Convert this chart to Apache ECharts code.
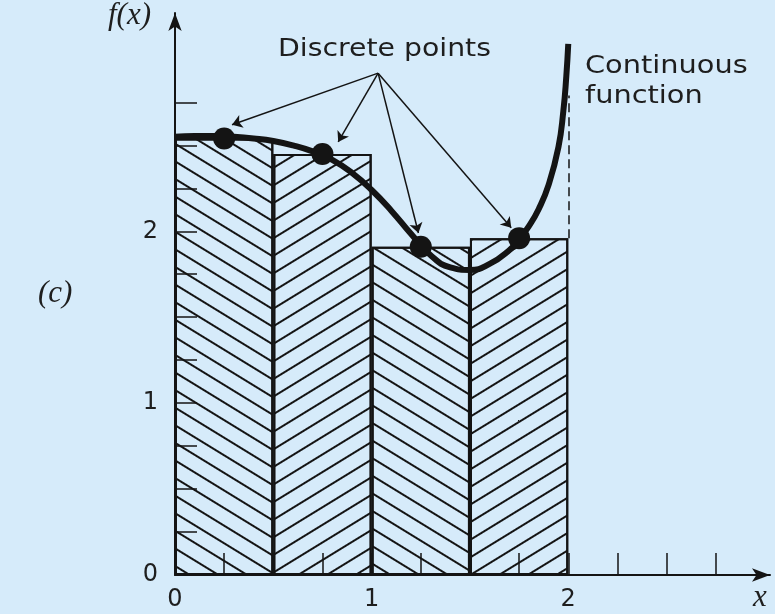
<!DOCTYPE html>
<html>
<head>
<meta charset="utf-8">
<script src="https://cdn.jsdelivr.net/npm/echarts@6/dist/echarts.min.js"></script>
<style>
  html, body { margin: 0; padding: 0; background: #d6ebfa; }
  #chart { width: 775px; height: 614px; }
</style>
</head>
<body>
<div id="chart"></div>
<script>
// Rectangles of the midpoint rule: centre of each interval and its height
const barMidpoints = [0.25, 0.75, 1.25, 1.75];
const barHeights = [2.54, 2.45, 1.91, 1.96];
const barSpan = 0.5;

// Discrete samples of the function
const pointX = [0.25, 0.75, 1.25, 1.75];
const pointY = [2.54, 2.45, 1.91, 1.96];

// Samples of the continuous function
const curveX = [0, 0.1, 0.2, 0.3, 0.4, 0.5, 0.6, 0.7, 0.8, 0.9, 1.0, 1.1, 1.2, 1.3, 1.4, 1.5, 1.6, 1.7, 1.75, 1.8, 1.85, 1.9, 1.95, 1.975, 1.99, 2.0];
const curveY = [2.55, 2.555, 2.555, 2.55, 2.54, 2.525, 2.50, 2.465, 2.415, 2.34, 2.24, 2.12, 1.985, 1.86, 1.79, 1.775, 1.81, 1.89, 1.955, 2.03, 2.13, 2.27, 2.49, 2.70, 2.90, 3.09];

// Axis ticks and labels
const tickValues = [0.25, 0.5, 0.75, 1, 1.25, 1.5, 1.75, 2, 2.25, 2.5, 2.75];
const labelValues = [0, 1, 2];

// Callout arrows from the "Discrete points" label towards each sample
const arrowFrom = [1.033, 2.92];
const arrowToX = [0.29, 0.83, 1.238, 1.71];
const arrowToY = [2.62, 2.52, 1.99, 2.02];

// Dashed guide at the right end of the interval
const guideX = 2;
const guideY = [1.96, 2.79];

const ink = '#141414';
const hatchAngle = 0.55;

function hatch(sign) {
  return {
    symbol: 'rect',
    symbolSize: 1,
    color: ink,
    dashArrayX: [1, 0],
    dashArrayY: [2, 12.5],
    rotation: sign * hatchAngle
  };
}

const chart = echarts.init(document.getElementById('chart'), null, { renderer: 'canvas' });

const option = {
  backgroundColor: '#d6ebfa',
  animation: false,
  grid: { left: 175, top: 13, right: 5, bottom: 39, containLabel: false },
  xAxis: {
    type: 'value', min: 0, max: 3.026, z: 5,
    splitLine: { show: false },
    axisLine: { lineStyle: { color: ink, width: 2 }, symbol: ['none', 'arrow'], symbolSize: [10, 18] },
    axisTick: { inside: true, length: 22, lineStyle: { color: ink, width: 1.5 }, customValues: tickValues },
    axisLabel: { customValues: labelValues, fontFamily: 'DejaVu Sans', fontSize: 24, color: '#1e1e1e', margin: 13 }
  },
  yAxis: {
    type: 'value', min: 0, max: 3.27, z: 5,
    splitLine: { show: false },
    axisLine: { show: true, lineStyle: { color: ink, width: 2 }, symbol: ['none', 'arrow'], symbolSize: [10, 18] },
    axisTick: { show: true, inside: true, length: 22, lineStyle: { color: ink, width: 1.5 }, customValues: tickValues },
    axisLabel: { customValues: labelValues, fontFamily: 'DejaVu Sans', fontSize: 24, color: '#1e1e1e', margin: 17 }
  },
  series: [
    {
      id: 'bars',
      type: 'bar',
      barWidth: 98,
      z: 1,
      data: barMidpoints.map((x, i) => ({
        value: [x, barHeights[i]],
        itemStyle: { decal: hatch(i % 2 === 0 ? 1 : -1) }
      })),
      itemStyle: { color: 'rgba(0,0,0,0)', borderColor: ink, borderWidth: 2 }
    },
    {
      type: 'line',
      z: 3,
      smooth: 0.5,
      showSymbol: false,
      data: curveX.map((x, i) => [x, curveY[i]]),
      lineStyle: { color: ink, width: 6 },
      markLine: {
        silent: true,
        symbol: ['none', 'none'],
        label: { show: false },
        lineStyle: { color: ink, width: 1.5, type: [9, 5] },
        data: [[{ coord: [guideX, guideY[0]] }, { coord: [guideX, guideY[1]] }]]
      }
    },
    {
      type: 'scatter',
      z: 4,
      symbolSize: 22,
      itemStyle: { color: ink, opacity: 1 },
      data: pointX.map((x, i) => [x, pointY[i]]),
      markLine: {
        silent: true,
        symbol: ['none', 'arrow'],
        symbolSize: 10,
        label: { show: false },
        lineStyle: { color: ink, width: 1.5, type: 'solid', opacity: 1 },
        data: arrowToX.map((x, i) => [{ coord: arrowFrom }, { coord: [x, arrowToY[i]] }])
      }
    }
  ],
  graphic: [
    { type: 'text', left: 108, top: 0, style: { text: 'f(x)', font: 'italic 31px "Liberation Serif"', fill: '#1e1e1e' } },
    { type: 'text', left: 38, top: 278, style: { text: '(c)', font: 'italic 31px "Liberation Serif"', fill: '#1e1e1e' } },
    { type: 'text', left: 753, top: 582, style: { text: 'x', font: 'italic 31px "Liberation Serif"', fill: '#1e1e1e' } },
    { type: 'text', x: 278, y: 38, scaleX: 1.18, style: { text: 'Discrete points', font: '24px "DejaVu Sans"', fill: '#1e1e1e' } },
    { type: 'text', x: 585, y: 52, scaleX: 1.2, style: { text: 'Continuous\nfunction', font: '24px "DejaVu Sans"', lineHeight: 30, fill: '#1e1e1e' } }
  ]
};

chart.setOption(option);

// Size each rectangle to span its whole interval on the x scale
const w = chart.convertToPixel({ xAxisIndex: 0 }, barSpan) - chart.convertToPixel({ xAxisIndex: 0 }, 0);
chart.setOption({ series: [{ id: 'bars', barWidth: w }] });
</script>
</body>
</html>
